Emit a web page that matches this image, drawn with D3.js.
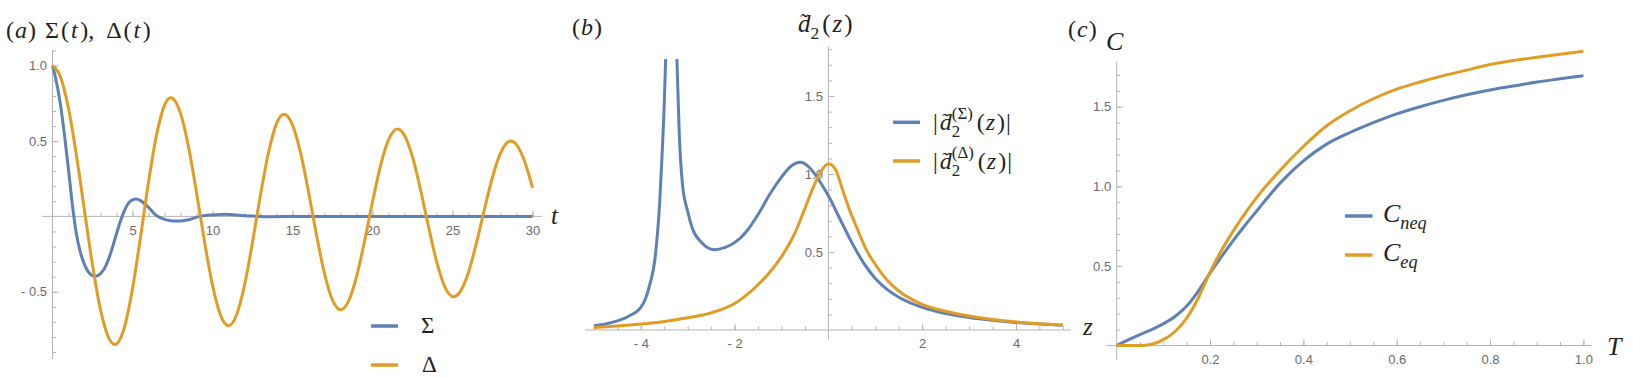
<!DOCTYPE html>
<html>
<head>
<meta charset="utf-8">
<title>Sigma, Delta, d2, C</title>
<script src="https://d3js.org/d3.v7.min.js"></script>
<style>
  body { margin: 0; background: #fff; }
  svg text { font-family: "Liberation Serif", "DejaVu Serif", serif; fill: #222; }
  .tick text { font-family: "Liberation Sans", Arial, sans-serif; font-size: 13px; fill: #6a6a6a; }
  .tick line { stroke: #b4b4b4; }
</style>
</head>
<body>
<script>
// ---- panel (a): Sigma(t), Delta(t) ----
var sigT = [0, 0.25, 0.5, 0.75, 1.0, 1.25, 1.5, 1.75, 2.0, 2.25, 2.5, 2.75, 3.0, 3.25, 3.5, 3.75, 4.0, 4.25, 4.5, 4.75, 5.0, 5.2, 5.5, 6.0, 6.5, 7.0, 7.5, 7.9, 8.5, 9.2, 10.0, 10.8, 11.5, 12.5, 13.5, 15, 17, 20, 25, 30];
var sigV = [1.0, 0.89, 0.74, 0.54, 0.31, 0.07, -0.12, -0.24, -0.32, -0.37, -0.392, -0.396, -0.38, -0.345, -0.285, -0.205, -0.115, -0.03, 0.04, 0.088, 0.11, 0.115, 0.105, 0.06, 0.005, -0.02, -0.03, -0.031, -0.022, 0.0, 0.01, 0.014, 0.009, 0.002, -0.002, -0.001, 0, 0, 0, 0];
var delT = [0, 0.5, 1.0, 1.5, 2.0, 2.5, 3.0, 3.5, 3.9, 4.5, 5.0, 5.5, 6.0, 6.5, 7.0, 7.39, 8.0, 8.5, 9.0, 9.5, 10.0, 10.5, 11.0, 11.5, 12.0, 12.5, 13.0, 13.5, 14.0, 14.47, 15.0, 15.5, 16.0, 16.5, 17.0, 17.5, 18.0, 18.5, 19.0, 19.5, 20.0, 20.5, 21.0, 21.56, 22.0, 22.5, 23.0, 23.5, 24.0, 24.5, 25.07, 25.5, 26.0, 26.5, 27.0, 27.5, 28.0, 28.64, 29.0, 29.5, 30.0];
var delV = [1.0, 0.926, 0.716, 0.403, 0.038, -0.323, -0.619, -0.803, -0.85, -0.734, -0.48, -0.138, 0.227, 0.539, 0.739, 0.788, 0.684, 0.462, 0.159, -0.167, -0.456, -0.655, -0.725, -0.654, -0.457, -0.172, 0.143, 0.424, 0.616, 0.678, 0.607, 0.424, 0.163, -0.123, -0.379, -0.556, -0.62, -0.562, -0.401, -0.166, 0.096, 0.336, 0.508, 0.58, 0.537, 0.395, 0.178, -0.068, -0.297, -0.462, -0.533, -0.496, -0.37, -0.175, 0.049, 0.26, 0.42, 0.50, 0.476, 0.367, 0.19];
var aXTicks = [5, 10, 15, 20, 25, 30];
var aYTicks = [-0.5, 0.5, 1.0];

// ---- panel (b): |d2(z)| ----
var bSigZ = [-5.0, -4.75, -4.5, -4.25, -4.0, -3.9, -3.8, -3.7, -3.65, -3.6, -3.55, -3.5, -3.47, -3.35, -3.23, -3.18, -3.11, -3.0, -2.9, -2.7, -2.43, -2.2, -2.0, -1.75, -1.5, -1.25, -1.0, -0.8, -0.6, -0.4, -0.2, 0, 0.25, 0.5, 0.75, 1.0, 1.25, 1.5, 2.0, 2.5, 3.0, 3.5, 4.0, 4.5, 5.0];
var bSigV = [0.026, 0.038, 0.058, 0.09, 0.145, 0.2, 0.3, 0.45, 0.6, 0.8, 1.1, 1.45, 1.74, 3.0, 1.74, 1.26, 0.93, 0.76, 0.65, 0.56, 0.515, 0.53, 0.56, 0.63, 0.74, 0.87, 0.98, 1.05, 1.075, 1.04, 0.96, 0.86, 0.71, 0.56, 0.43, 0.33, 0.26, 0.21, 0.145, 0.105, 0.08, 0.062, 0.048, 0.038, 0.03];
var bDelZ = [-5.0, -4.5, -4.0, -3.5, -3.0, -2.5, -2.0, -1.5, -1.25, -1.0, -0.7, -0.5, -0.3, -0.15, 0, 0.15, 0.3, 0.45, 0.6, 0.8, 1.0, 1.25, 1.5, 2.0, 2.5, 3.0, 3.5, 4.0, 4.5, 5.0];
var bDelV = [0.015, 0.025, 0.038, 0.055, 0.078, 0.11, 0.17, 0.29, 0.37, 0.47, 0.63, 0.78, 0.93, 1.02, 1.065, 1.03, 0.9, 0.77, 0.66, 0.52, 0.42, 0.32, 0.25, 0.165, 0.12, 0.09, 0.068, 0.052, 0.04, 0.032];
var bXTicks = [-4, -2, 2, 4];
var bYTicks = [0.5, 1.0, 1.5];

// ---- panel (c): C(T) ----
var cT   = [0, 0.025, 0.05, 0.075, 0.1, 0.125, 0.15, 0.175, 0.2, 0.225, 0.25, 0.275, 0.3, 0.35, 0.4, 0.45, 0.5, 0.55, 0.6, 0.65, 0.7, 0.75, 0.8, 0.85, 0.9, 0.95, 1.0];
var cNeq = [0, 0.035, 0.068, 0.1, 0.137, 0.182, 0.248, 0.342, 0.455, 0.56, 0.66, 0.755, 0.845, 1.02, 1.16, 1.265, 1.338, 1.40, 1.455, 1.5, 1.54, 1.575, 1.605, 1.63, 1.655, 1.675, 1.695];
var cEq  = [0, 0, 0, 0.008, 0.037, 0.088, 0.172, 0.3, 0.46, 0.6, 0.72, 0.83, 0.93, 1.1, 1.25, 1.38, 1.475, 1.55, 1.61, 1.655, 1.695, 1.73, 1.765, 1.79, 1.81, 1.83, 1.848];
var cXTicks = [0.2, 0.4, 0.6, 0.8, 1.0];
var cYTicks = [0.5, 1.0, 1.5];

var blue = "#5e81b5", orange = "#e19c24", axisCol = "#b4b4b4";

var svg = d3.select("body").append("svg")
    .attr("width", 1633)
    .attr("height", 378);

function fmtTick(d) {
    var a = Math.abs(d);
    var s = (a >= 2 && a % 1 === 0) ? String(a) : d3.format(".1f")(a);
    return d < 0 ? "- " + s : s;
}

function range(a, b, step) {
    var out = [];
    for (var i = 0; a + i * step <= b + 1e-9; i++) out.push(+(a + i * step).toFixed(4));
    return out;
}

// Mathematica-like axes crossing at the origin
function drawAxes(x, y, o) {
    var g = svg.append("g");
    g.append("line").attr("x1", o.xl[0]).attr("x2", o.xl[1])
        .attr("y1", y(0)).attr("y2", y(0)).attr("stroke", axisCol);
    g.append("line").attr("x1", x(0)).attr("x2", x(0))
        .attr("y1", o.yl[0]).attr("y2", o.yl[1]).attr("stroke", axisCol);

    g.append("g").attr("transform", "translate(0," + y(0) + ")")
        .call(d3.axisBottom(x).tickValues(o.xMinor).tickSizeInner(-3.5).tickSizeOuter(0).tickFormat(""));
    g.append("g").attr("transform", "translate(0," + y(0) + ")")
        .call(d3.axisBottom(x).tickValues(o.xTicks).tickSizeInner(-6).tickSizeOuter(0).tickPadding(9).tickFormat(fmtTick));
    g.append("g").attr("transform", "translate(" + x(0) + ",0)")
        .call(d3.axisLeft(y).tickValues(o.yMinor).tickSizeInner(-3.5).tickSizeOuter(0).tickFormat(""));
    g.append("g").attr("transform", "translate(" + x(0) + ",0)")
        .call(d3.axisLeft(y).tickValues(o.yTicks).tickSizeInner(-6).tickSizeOuter(0).tickPadding(5.5).tickFormat(fmtTick));
    g.selectAll(".domain").remove();
    g.selectAll(".tick text").filter(function() { return this.textContent === ""; }).remove();
    return g;
}

function curve(x, y, xs, ys, col, clip) {
    var pts = xs.map(function(d, i) { return [d, ys[i]]; });
    var line = d3.line()
        .x(function(d) { return x(d[0]); })
        .y(function(d) { return y(d[1]); })
        .curve(d3.curveMonotoneX);
    var p = svg.append("path").datum(pts)
        .attr("d", line)
        .attr("fill", "none")
        .attr("stroke", col)
        .attr("stroke-width", 3)
        .attr("stroke-linejoin", "round");
    if (clip) p.attr("clip-path", clip);
}

// math text from pieces: {s, i: italic, sub, sup, back: stack over previous piece, tilde, dx}
function mathText(x, y, size, parts) {
    var t = svg.append("text").attr("x", x).attr("y", y).attr("font-size", size);
    var shift = 0, prevW = 0, carry = 0;
    parts.forEach(function(p) {
        var sz = (p.sub || p.sup) ? size * 0.7 : size;
        var target = p.sub ? size * 0.28 : (p.sup ? -size * 0.45 : 0);
        var s = t.append("tspan").text(p.s).attr("font-size", sz);
        if (p.i) s.attr("font-style", "italic");
        if (target - shift) s.attr("dy", target - shift);
        shift = target;
        var dx = (p.dx || 0) + carry;
        carry = 0;
        if (p.back) dx -= prevW;
        if (dx) s.attr("dx", dx);
        var w = s.node().getComputedTextLength();
        if (p.tilde) {
            var up = -size * 0.08;
            var tl = t.append("tspan").text("\u02dc").attr("font-size", size * 0.9)
                .attr("dx", -w * 0.8).attr("dy", up - shift);
            shift = up;
            carry = w * 0.8 - tl.node().getComputedTextLength();
        }
        prevW = w;
    });
    return t;
}

function legendLine(x1, x2, yy, col) {
    svg.append("line").attr("x1", x1).attr("x2", x2).attr("y1", yy).attr("y2", yy)
        .attr("stroke", col).attr("stroke-width", 3.5);
}

// ================= panel (a) =================
var ax = d3.scaleLinear().domain([0, 30]).range([52.5, 532.5]);
var ay = d3.scaleLinear().domain([0, 1]).range([216.4, 65.7]);
drawAxes(ax, ay, {
    xl: [42, 542], yl: [50, 359],
    xTicks: aXTicks, xMinor: range(1, 30, 1),
    yTicks: aYTicks, yMinor: range(-0.9, 1.1, 0.1).filter(function(d) { return Math.abs(d) > 1e-6; })
});
curve(ax, ay, sigT, sigV, blue);
curve(ax, ay, delT, delV, orange);
mathText(6, 38, 24, [{s: "("}, {s: "a", i: true, dx: 1}, {s: ")", dx: 1}]);
mathText(45, 38, 24, [{s: "\u03a3"}, {s: "(", dx: 2}, {s: "t", i: true, dx: 2}, {s: ")", dx: 2.5}, {s: ","},
    {s: "\u0394", dx: 12}, {s: "(", dx: 2}, {s: "t", i: true, dx: 2}, {s: ")", dx: 2.5}]);
mathText(551, 224, 25, [{s: "t", i: true}]);
legendLine(371, 398, 326, blue);
legendLine(371, 398, 365, orange);
mathText(421, 333, 23, [{s: "\u03a3"}]);
mathText(422, 372, 23, [{s: "\u0394"}]);

// ================= panel (b) =================
var bx = d3.scaleLinear().domain([-5, 5]).range([593.9, 1062.9]);
var by = d3.scaleLinear().domain([0, 1.5]).range([330, 96]);
svg.append("clipPath").attr("id", "clipB").append("rect")
    .attr("x", 560).attr("y", 59).attr("width", 520).attr("height", 300);
drawAxes(bx, by, {
    xl: [585, 1071], yl: [46.7, 340],
    xTicks: bXTicks, xMinor: range(-5, 5, 0.5).filter(function(d) { return d !== 0; }),
    yTicks: bYTicks, yMinor: range(0.1, 1.8, 0.1)
});
curve(bx, by, bSigZ, bSigV, blue, "url(#clipB)");
curve(bx, by, bDelZ, bDelV, orange, "url(#clipB)");
mathText(572, 35, 24, [{s: "("}, {s: "b", i: true, dx: 1}, {s: ")", dx: 1}]);
mathText(798, 32, 25, [{s: "d", i: true, tilde: true}, {s: "2", sub: true}, {s: "(", dx: 3}, {s: "z", i: true, dx: 2}, {s: ")", dx: 2}]);
mathText(1083, 335, 25, [{s: "z", i: true}]);
legendLine(893, 920, 122.3, blue);
legendLine(893, 920, 161, orange);
mathText(933, 130, 24, [{s: "|"}, {s: "d", i: true, tilde: true, dx: 2}, {s: "2", sub: true},
    {s: "(\u03a3)", sup: true, back: true}, {s: "(", dx: 4}, {s: "z", i: true, dx: 1}, {s: ")", dx: 2}, {s: "|", dx: 1}]);
mathText(933, 169, 24, [{s: "|"}, {s: "d", i: true, tilde: true, dx: 2}, {s: "2", sub: true},
    {s: "(\u0394)", sup: true, back: true}, {s: "(", dx: 4}, {s: "z", i: true, dx: 1}, {s: ")", dx: 2}, {s: "|", dx: 1}]);

// ================= panel (c) =================
var cx = d3.scaleLinear().domain([0, 1]).range([1116.7, 1583.4]);
var cy = d3.scaleLinear().domain([0, 1.5]).range([345.5, 106.7]);
drawAxes(cx, cy, {
    xl: [1106.7, 1591.7], yl: [61.7, 360],
    xTicks: cXTicks, xMinor: range(0.05, 1.0, 0.05),
    yTicks: cYTicks, yMinor: range(0.1, 1.7, 0.1)
});
curve(cx, cy, cT, cNeq, blue);
curve(cx, cy, cT, cEq, orange);
mathText(1068, 37, 24, [{s: "("}, {s: "c", i: true, dx: 1}, {s: ")", dx: 1}]);
mathText(1106, 50, 26, [{s: "C", i: true}]);
mathText(1607, 355, 26, [{s: "T", i: true}]);
legendLine(1345, 1372.5, 216, blue);
legendLine(1345, 1372.5, 255, orange);
mathText(1383, 222, 26, [{s: "C", i: true}, {s: "neq", i: true, sub: true}]);
mathText(1383, 261, 26, [{s: "C", i: true}, {s: "eq", i: true, sub: true}]);
</script>
</body>
</html>
